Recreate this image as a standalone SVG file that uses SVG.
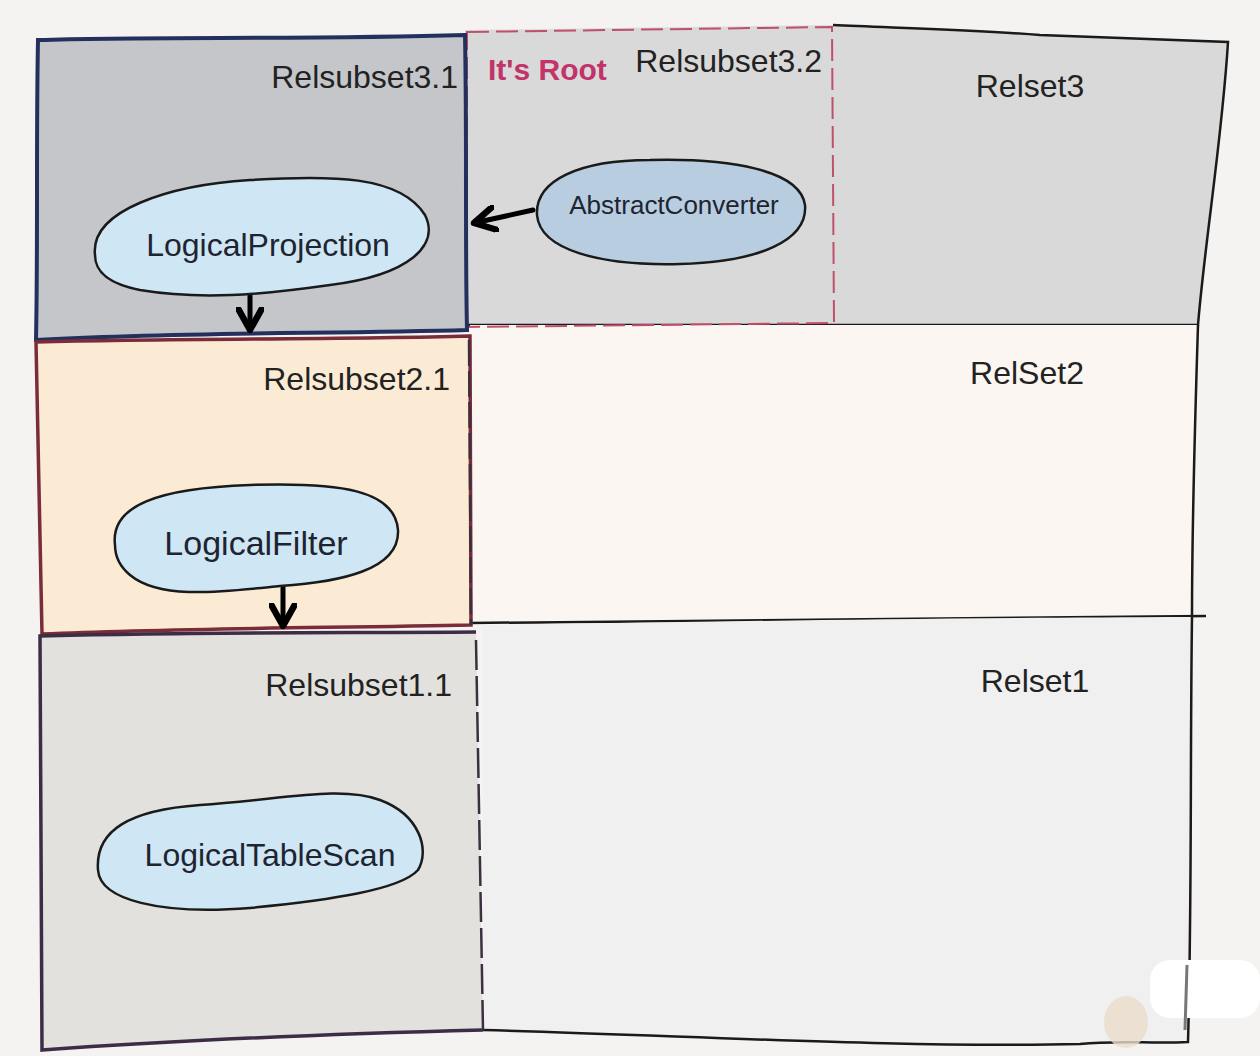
<svg xmlns="http://www.w3.org/2000/svg" width="1260" height="1056" viewBox="0 0 1260 1056">
<style>
.lbl{font-family:"Liberation Sans",Arial,sans-serif;font-size:32px;fill:#222;}
.nlbl{font-family:"Liberation Sans",Arial,sans-serif;fill:#1e2430;text-anchor:middle;}
.blob{stroke:#1a1a1a;stroke-width:2.5;}
.edge{stroke:#1a1a1a;stroke-width:2.5;fill:none;}
.conn{stroke:#000;stroke-width:5;fill:none;stroke-linecap:round;}
</style>
<defs>
<marker id="ah" viewBox="0 0 12 12" refX="10" refY="6" markerWidth="5.5" markerHeight="5.5" orient="auto" markerUnits="strokeWidth">
<path d="M1,1 L10,6 L1,11" fill="none" stroke="#000" stroke-width="2.8" stroke-linecap="round" stroke-linejoin="round"/>
</marker>
</defs>
<rect width="1260" height="1056" fill="#f4f3f1"/>
<g id="relset3">
<path d="M465,30 L833,25 C900,28 980,30 1040,35 C1120,38 1180,40 1228,42 C1222,140 1205,240 1198,325 L465,325 Z" fill="#d9d9d9"/>
<path class="edge" d="M833,25 C900,28 980,30 1040,35 C1120,38 1180,40 1228,42 C1222,140 1205,240 1198,325 L465,325"/>
<text class="lbl" x="1030" y="97" text-anchor="middle" font-size="36">Relset3</text>
</g>
<g id="relset2">
<path d="M470,325 L1198,325 C1195,420 1192,520 1192,617 L470,625 Z" fill="#fbf6f1"/>
<path class="edge" d="M1198,325 C1195,420 1192,520 1192,617"/>
<line x1="470" y1="623" x2="1206" y2="616" stroke="#1a1a1a" stroke-width="2.5"/>
<text class="lbl" x="1027" y="384" text-anchor="middle" font-size="36">RelSet2</text>
</g>
<g id="relset1">
<path d="M483,625 C700,622 900,618 1192,617 C1190,760 1192,900 1188,1042 C1150,1044 1120,1040 1080,1044 C900,1048 700,1036 483,1030 Z" fill="#f0f0f0"/>
<path class="edge" d="M1192,617 C1190,760 1192,900 1188,1042 C1150,1044 1120,1040 1080,1044 C900,1048 700,1036 483,1030"/>
<text class="lbl" x="1035" y="692" text-anchor="middle" font-size="36">Relset1</text>
</g>
<g id="relsubset3_2">
<path d="M467,32 L832,27 L834,323 L467,327 Z" fill="none" stroke="#c0506a" stroke-width="2" stroke-dasharray="22 7"/>
<text class="lbl" x="822" y="72" text-anchor="end" font-size="27">Relsubset3.2</text>
<text x="488" y="80" font-family="Liberation Sans,Arial,sans-serif" font-weight="bold" font-size="30" fill="#c2336a">It's Root</text>
</g>
<g id="relsubset3_1">
<path d="M38,40 C150,36 300,40 465,35 C467,140 465,240 467,330 C330,334 180,332 36,340 C38,240 36,140 38,40 Z" fill="#c4c6c9" stroke="#23305e" stroke-width="4"/>
<text class="lbl" x="458" y="88" text-anchor="end">Relsubset3.1</text>
</g>
<g id="relsubset2_1">
<path d="M36,342 C180,338 330,340 470,336 C470,440 470,540 471,625 C330,628 180,628 42,634 C40,540 38,440 36,342 Z" fill="#fbebd5" stroke="#7a2d38" stroke-width="3.5"/>
<line x1="469" y1="340" x2="471" y2="625" stroke="#3a3040" stroke-width="2.5" stroke-dasharray="26 5"/>
<text class="lbl" x="450" y="390" text-anchor="end">Relsubset2.1</text>
</g>
<g id="relsubset1_1">
<path d="M476,632 C330,633 180,632 40,636 C40,760 40,900 42,1050 C180,1040 330,1034 483,1030" fill="#e2e1dd" stroke="#3d2c45" stroke-width="3.5"/>
<line x1="476" y1="640" x2="483" y2="1030" stroke="#3a3040" stroke-width="2.5" stroke-dasharray="30 6"/>
<text class="lbl" x="452" y="696" text-anchor="end">Relsubset1.1</text>
</g>
<ellipse cx="1126" cy="1022" rx="22" ry="26" fill="#eadccb" opacity="0.8"/>
<rect x="1150" y="960" width="110" height="58" rx="20" fill="#ffffff"/>
<line x1="1187" y1="965" x2="1185" y2="1030" stroke="#777" stroke-width="3"/>
<g id="connectors">
<line class="conn" x1="533" y1="210" x2="474" y2="223" marker-end="url(#ah)"/>
<line class="conn" x1="250" y1="292" x2="250" y2="330" marker-end="url(#ah)"/>
<line class="conn" x1="283" y1="588" x2="283" y2="626" marker-end="url(#ah)"/>
</g>
<g id="n_logicalprojection">
<path class="blob" d="M95,255 C90,210 170,185 250,180 C330,175 400,175 425,215 C440,245 410,275 330,285 C260,295 200,300 140,290 C105,283 95,270 95,255 Z" fill="#cfe6f5"/>
<text class="nlbl" x="268" y="256" font-size="32">LogicalProjection</text>
</g>
<g id="n_abstractconverter">
<path class="blob" d="M537,215 C535,180 580,160 650,160 C730,158 800,170 805,205 C808,240 760,262 680,264 C600,266 540,250 537,215 Z" fill="#b8cde0"/>
<text class="nlbl" x="674" y="214" font-size="26">AbstractConverter</text>
</g>
<g id="n_logicalfilter">
<path class="blob" d="M115,545 C110,505 160,488 250,485 C340,482 395,490 398,530 C400,570 340,582 280,586 C220,592 160,600 130,575 C118,565 115,555 115,545 Z" fill="#cfe6f5"/>
<text class="nlbl" x="256" y="555" font-size="34">LogicalFilter</text>
</g>
<g id="n_logicaltablescan">
<path class="blob" d="M98,870 C95,830 130,810 200,805 C280,800 340,785 380,800 C420,815 430,850 418,870 C400,890 330,900 250,908 C160,915 100,900 98,870 Z" fill="#cfe6f5"/>
<text class="nlbl" x="270" y="866" font-size="32">LogicalTableScan</text>
</g>
</svg>
